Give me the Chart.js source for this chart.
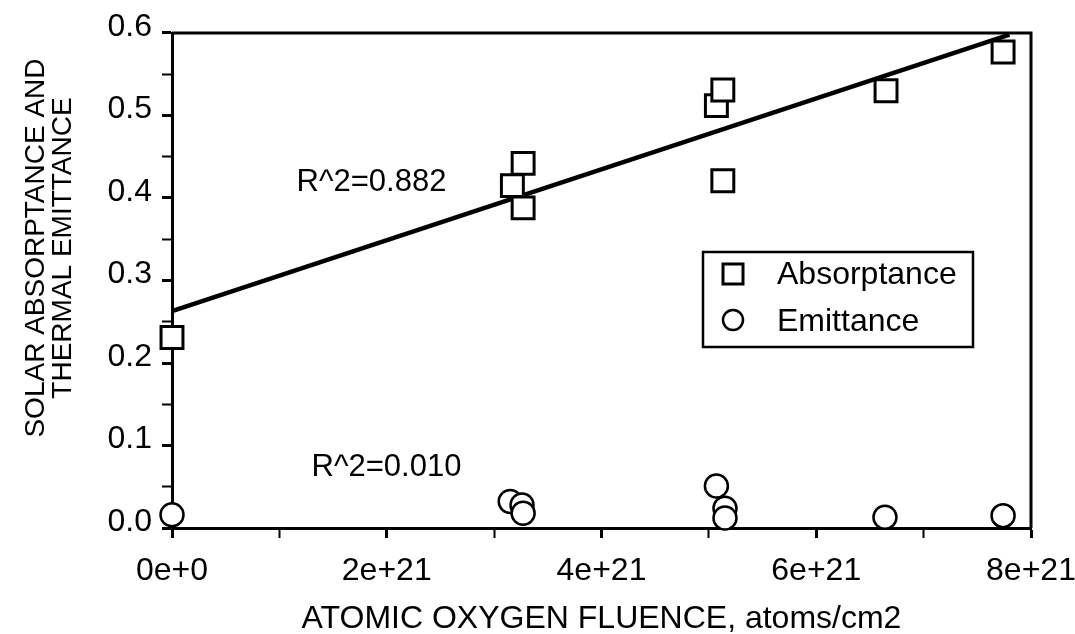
<!DOCTYPE html>
<html>
<head>
<meta charset="utf-8">
<script src="https://cdn.jsdelivr.net/npm/chart.js@4.4.1/dist/chart.umd.min.js"></script>
<style>
  html, body { margin: 0; padding: 0; background: #fff; }
  #wrap { width: 1075px; height: 634px; }
</style>
</head>
<body>
<div id="wrap"><canvas id="chart" width="1075" height="634"></canvas></div>
<script>
// fluence in atoms/cm2
const absFluence = [0, 3.17e21, 3.27e21, 3.27e21, 5.07e21, 5.13e21, 5.13e21, 6.65e21, 7.74e21];
const absorptance = [0.231, 0.415, 0.442, 0.388, 0.512, 0.531, 0.421, 0.53, 0.577];
const emitFluence = [0, 3.15e21, 3.26e21, 3.27e21, 5.07e21, 5.15e21, 5.15e21, 6.64e21, 7.74e21];
const emittance = [0.016, 0.032, 0.028, 0.018, 0.051, 0.024, 0.012, 0.013, 0.015];

// linear fit for absorptance
const fitX = [0, 7.8e21];
const fitY = [0.263, 0.598];

const xTicks = [0, 2e21, 4e21, 6e21, 8e21];
const xTickLabels = ["0e+0", "2e+21", "4e+21", "6e+21", "8e+21"];
const yTicks = [0, 0.1, 0.2, 0.3, 0.4, 0.5, 0.6];
const yTickLabels = ["0.0", "0.1", "0.2", "0.3", "0.4", "0.5", "0.6"];

const seriesNames = ["Absorptance", "Emittance"];
const fitLabels = [
  { text: "R^2=0.882", x: 1.16e21, y: 0.419 },
  { text: "R^2=0.010", x: 1.30e21, y: 0.073 },
];
const yTitle = ["SOLAR ABSORPTANCE AND", "THERMAL EMITTANCE"];
const xTitle = "ATOMIC OXYGEN FLUENCE, atoms/cm2";

const FONT = "'Liberation Sans', Arial, Helvetica, sans-serif";

function pick(ticks, labels, v) {
  const i = ticks.findIndex((t) => Math.abs(t - v) < Math.abs(ticks[1]) * 1e-6);
  return i >= 0 ? labels[i] : "";
}

// box round the plot, fit labels, legend, y title
const extras = {
  id: "extras",
  afterDatasetsDraw(chart) {
    const { ctx, chartArea: a, scales } = chart;
    ctx.save();
    ctx.strokeStyle = "#000";
    ctx.lineWidth = 3;
    ctx.beginPath();
    ctx.moveTo(a.left, a.top);
    ctx.lineTo(a.right, a.top);
    ctx.lineTo(a.right, a.bottom);
    ctx.stroke();

    ctx.fillStyle = "#000";
    ctx.font = "31px " + FONT;
    ctx.textBaseline = "middle";
    ctx.textAlign = "left";
    fitLabels.forEach((l) => {
      ctx.fillText(l.text, scales.x.getPixelForValue(l.x), scales.y.getPixelForValue(l.y));
    });

    // legend
    const lx = 703, ly = 252, lw = 270, lh = 95;
    ctx.fillStyle = "#fff";
    ctx.fillRect(lx, ly, lw, lh);
    ctx.lineWidth = 2.5;
    ctx.strokeRect(lx, ly, lw, lh);
    ctx.lineWidth = 3;
    ctx.strokeRect(733 - 10, 274 - 10, 20, 20);
    ctx.lineWidth = 2.5;
    ctx.beginPath();
    ctx.arc(733, 320, 10, 0, Math.PI * 2);
    ctx.stroke();
    ctx.fillStyle = "#000";
    ctx.font = "32px " + FONT;
    ctx.fillText(seriesNames[0], 777, 275);
    ctx.fillText(seriesNames[1], 777, 322);

    // y axis title, two lines
    ctx.font = "28px " + FONT;
    ctx.textAlign = "center";
    ctx.translate(0, 248);
    ctx.rotate(-Math.PI / 2);
    ctx.fillText(yTitle[0], 0, 36);
    ctx.fillText(yTitle[1], 0, 63);
    ctx.restore();
  },
};

const ctx = document.getElementById("chart").getContext("2d");
new Chart(ctx, {
  type: "scatter",
  data: {
    datasets: [
      {
        type: "line",
        label: "fit",
        data: fitX.map((x, i) => ({ x: x, y: fitY[i] })),
        borderColor: "#000",
        borderWidth: 4.5,
        pointRadius: 0,
        fill: false,
        order: 3,
      },
      {
        label: seriesNames[1],
        data: emitFluence.map((x, i) => ({ x: x, y: emittance[i] })),
        pointStyle: "circle",
        pointRadius: 11.5,
        borderColor: "#000",
        borderWidth: 2.5,
        backgroundColor: "#fff",
        clip: false,
        order: 2,
      },
      {
        label: seriesNames[0],
        data: absFluence.map((x, i) => ({ x: x, y: absorptance[i] })),
        pointStyle: "rect",
        pointRadius: 15.5,
        borderColor: "#000",
        borderWidth: 3,
        backgroundColor: "#fff",
        clip: false,
        order: 1,
      },
    ],
  },
  options: {
    responsive: false,
    animation: false,
    layout: { padding: { left: 0, right: 44, top: 33, bottom: 0 } },
    plugins: { legend: { display: false }, tooltip: { enabled: false } },
    scales: {
      x: {
        type: "linear",
        min: 0,
        max: 8e21,
        afterBuildTicks: (s) => {
          s.ticks = [];
          for (let i = 0; i <= 8; i++) s.ticks.push({ value: i * 1e21 });
        },
        afterFit: (s) => {
          s.height = 106;
          s.paddingLeft = 0;
          s.paddingRight = 0;
        },
        border: { display: true, color: "#000", width: 3 },
        grid: {
          drawOnChartArea: false,
          drawTicks: true,
          tickLength: 10,
          color: "#000",
          tickWidth: (c) => (pick(xTicks, xTickLabels, c.tick.value) ? 3 : 2),
        },
        ticks: {
          autoSkip: false,
          maxRotation: 0,
          color: "#000",
          font: { family: FONT, size: 32 },
          padding: 14,
          callback: (v) => pick(xTicks, xTickLabels, v),
        },
        title: {
          display: true,
          text: xTitle,
          color: "#000",
          font: { family: FONT, size: 32 },
          padding: { top: 0, bottom: -4 },
        },
      },
      y: {
        type: "linear",
        min: 0,
        max: 0.6,
        afterBuildTicks: (s) => {
          s.ticks = [];
          for (let i = 0; i <= 12; i++) s.ticks.push({ value: i * 0.05 });
        },
        afterFit: (s) => {
          s.width = 172;
          s.paddingTop = 0;
          s.paddingBottom = 0;
        },
        border: { display: true, color: "#000", width: 3 },
        grid: {
          drawOnChartArea: false,
          drawTicks: true,
          tickLength: 10,
          color: "#000",
          tickWidth: (c) => (pick(yTicks, yTickLabels, c.tick.value) ? 3 : 2),
        },
        ticks: {
          autoSkip: false,
          color: "#000",
          font: { family: FONT, size: 32 },
          padding: 10,
          labelOffset: -6,
          callback: (v) => pick(yTicks, yTickLabels, v),
        },
        title: { display: false },
      },
    },
  },
  plugins: [extras],
});
</script>
</body>
</html>
